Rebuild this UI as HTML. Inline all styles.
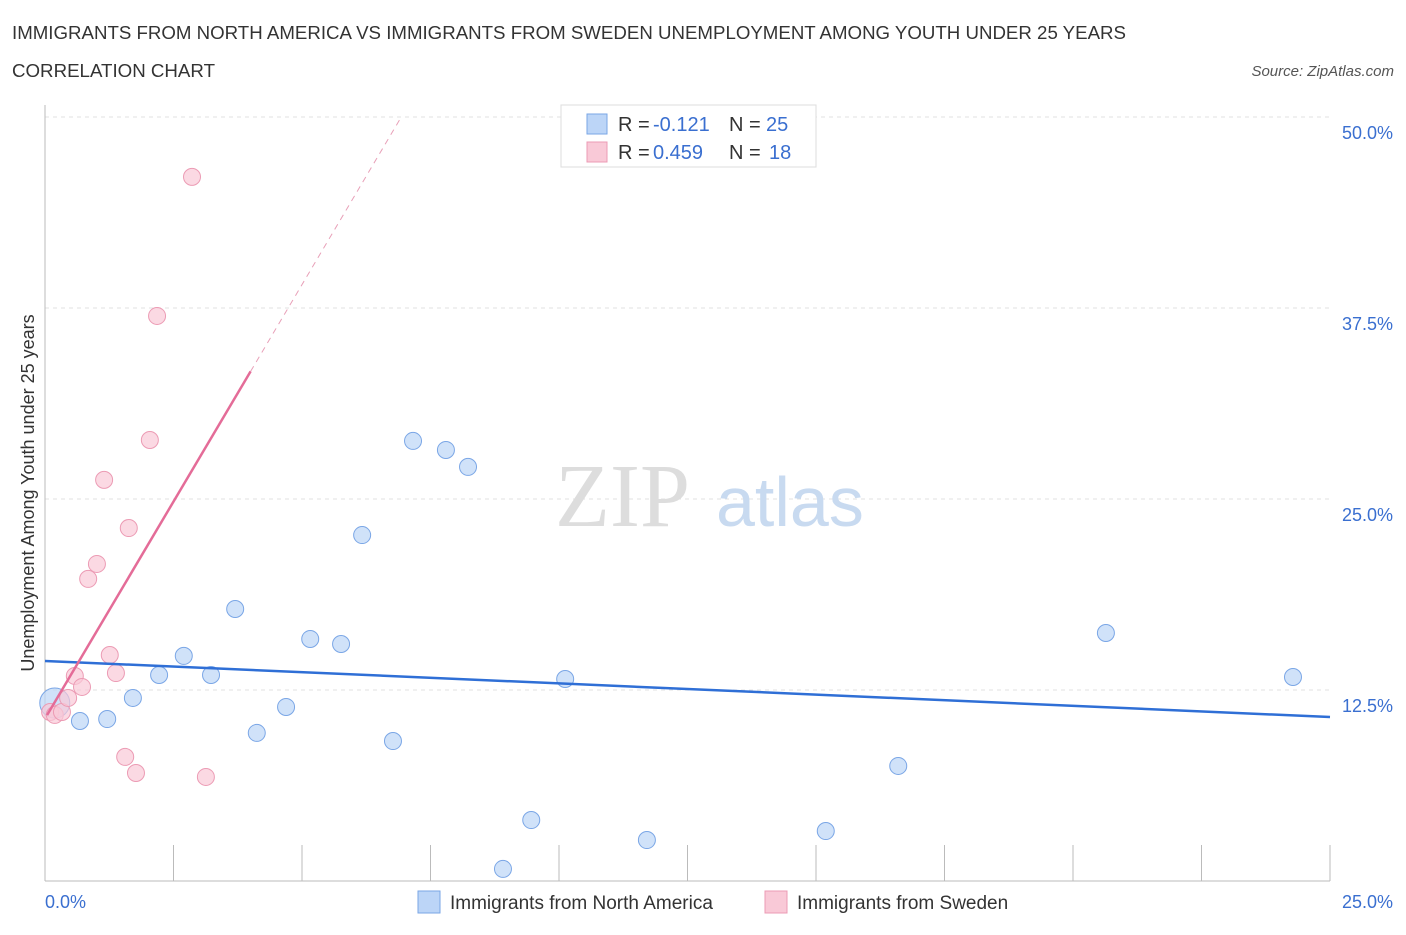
<!DOCTYPE html>
<html><head><meta charset="utf-8"><style>
body{margin:0;background:#fff;font-family:"Liberation Sans",sans-serif;}
</style></head><body>
<svg width="1406" height="930" xmlns="http://www.w3.org/2000/svg" style="font-family:'Liberation Sans',sans-serif">
<text x="12" y="39" font-size="18" fill="#333" textLength="1114" lengthAdjust="spacingAndGlyphs">IMMIGRANTS FROM NORTH AMERICA VS IMMIGRANTS FROM SWEDEN UNEMPLOYMENT AMONG YOUTH UNDER 25 YEARS</text>
<text x="12" y="77" font-size="18" fill="#333" textLength="203" lengthAdjust="spacingAndGlyphs">CORRELATION CHART</text>
<text x="1394" y="76" font-size="15" fill="#555" font-style="italic" text-anchor="end">Source: ZipAtlas.com</text>
<g id="grid"></g>
<text x="555" y="526" font-size="90" fill="#ddd" font-family="Liberation Serif">ZIP</text>
<text x="716" y="526" font-size="70" fill="#c8daf0">atlas</text>
<g id="marks"></g>
<text transform="translate(34,493) rotate(-90)" font-size="18" fill="#333" text-anchor="middle">Unemployment Among Youth under 25 years</text>
<text x="45" y="908" font-size="18" fill="#3a6fd0">0.0%</text>
<text x="1393" y="908" font-size="18" fill="#3a6fd0" text-anchor="end">25.0%</text>
<g>
<rect x="561" y="105" width="255" height="62" fill="#fff" stroke="#ddd"/>
<rect x="587" y="114" width="20" height="20" fill="#bcd5f7" stroke="#7aa6e6"/>
<text x="618" y="131" font-size="20" fill="#333">R = </text>
<text x="653" y="131" font-size="20" fill="#3a6fd0">-0.121</text>
<text x="729" y="131" font-size="20" fill="#333">N = </text>
<text x="766" y="131" font-size="20" fill="#3a6fd0">25</text>
<rect x="587" y="142" width="20" height="20" fill="#f9c9d7" stroke="#ec9bb4"/>
<text x="618" y="159" font-size="20" fill="#333">R = </text>
<text x="653" y="159" font-size="20" fill="#3a6fd0">0.459</text>
<text x="729" y="159" font-size="20" fill="#333">N = </text>
<text x="769" y="159" font-size="20" fill="#3a6fd0">18</text>
</g>
<g>
<rect x="418" y="891" width="22" height="22" fill="#bcd5f7" stroke="#7aa6e6"/>
<text x="450" y="909" font-size="19" fill="#333">Immigrants from North America</text>
<rect x="765" y="891" width="22" height="22" fill="#f9c9d7" stroke="#ec9bb4"/>
<text x="797" y="909" font-size="19" fill="#333">Immigrants from Sweden</text>
</g>
</svg>
<script>
const blueX=[0.19,0.68,1.21,1.71,2.22,2.70,3.23,3.70,4.12,4.69,5.16,5.76,6.17,6.77,7.16,7.80,8.23,8.91,9.46,10.12,11.71,15.19,16.60,20.64,24.28];
const blueY=[11.65,10.47,10.60,11.98,13.48,14.73,13.48,17.80,9.69,11.39,15.84,15.51,22.64,9.16,28.80,28.21,27.10,0.79,3.99,13.22,2.68,3.27,7.53,16.23,13.35];
const pinkX=[0.10,0.19,0.33,0.45,0.58,0.72,0.84,1.01,1.15,1.26,1.38,1.56,1.63,1.77,2.04,2.18,2.86,3.13];
const pinkY=[11.06,10.87,11.06,11.98,13.42,12.70,19.77,20.75,26.25,14.79,13.61,8.12,23.10,7.07,28.86,36.98,46.08,6.81];
const yTicks=[12.5,25,37.5,50];
const yTickLabels=["12.5%","25.0%","37.5%","50.0%"];
const xTicks=[0,2.5,5,7.5,10,12.5,15,17.5,20,22.5,25];
const blueTrend=[14.40,10.73];
const pinkTrend=[10.63,5.68];
const NS="http://www.w3.org/2000/svg";
const sx=v=>45+v/25*1285, sy=v=>881-v/12.5*191;
function mk(p,t,a){const e=document.createElementNS(NS,t);for(const k in a)e.setAttribute(k,a[k]);p.appendChild(e);return e;}
const g=document.getElementById('grid'),m=document.getElementById('marks');
yTicks.forEach((t,i)=>{
 const l=mk(g,'line',{x1:45,x2:1330,y1:sy(t),y2:sy(t),stroke:'#e2e2e2','stroke-dasharray':'4,4'});
 
 
 const tx=mk(g,'text',{x:1393,y:sy(t)+22,'font-size':18,fill:'#3a6fd0','text-anchor':'end'});
 tx.textContent=yTickLabels[i];
 
 
});
const ax=mk(g,'line',{x1:45,x2:45,y1:105,y2:881,stroke:'#bbb'});


const bx=mk(g,'line',{x1:45,x2:1330,y1:881,y2:881,stroke:'#bbb'});


xTicks.forEach(t=>{
 const l=mk(g,'line',{x1:sx(t),x2:sx(t),y1:845,y2:881,stroke:'#bbb'});
 
 
});
blueX.forEach((x,i)=>{
 const c=mk(m,'circle',{cx:sx(x),cy:sy(blueY[i]),r:i==0?15:8.5,fill:'#bcd5f7','fill-opacity':0.7,stroke:'#7aa6e6','stroke-width':1});
 
 
});
pinkX.forEach((x,i)=>{
 const c=mk(m,'circle',{cx:sx(x),cy:sy(pinkY[i]),r:8.5,fill:'#f9c9d7','fill-opacity':0.7,stroke:'#ec9bb4','stroke-width':1});
 
 
});
const bt=mk(m,'line',{x1:sx(0),y1:sy(blueTrend[0]),x2:sx(25),y2:sy(blueTrend[1]),stroke:'#2f6fd6','stroke-width':2.5});


const pf=x=>pinkTrend[0]+pinkTrend[1]*x;
const pt=mk(m,'line',{x1:sx(0.04),y1:sy(pf(0.04)),x2:sx(4),y2:sy(pf(4)),stroke:'#e46c98','stroke-width':2.5});


const pd=mk(m,'line',{x1:sx(4),y1:sy(pf(4)),x2:sx(6.9),y2:sy(pf(6.9)),stroke:'#e8a0b8','stroke-width':1,'stroke-dasharray':'6,5'});


</script>
</body></html>
